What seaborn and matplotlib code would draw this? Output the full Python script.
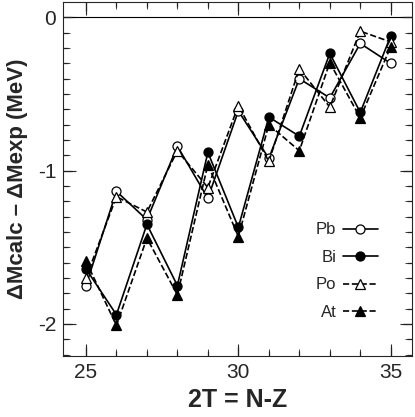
import matplotlib
matplotlib.use("Agg")
import matplotlib.pyplot as plt
import numpy as np
import seaborn as sns
from matplotlib.ticker import MultipleLocator

# 2T = N-Z
two_t = [25, 26, 27, 28, 29, 30, 31, 32, 33, 34, 35]

pb = [-1.75, -1.135, -1.32, -0.84, -1.18, -0.61, -0.92, -0.40, -0.525, -0.17, -0.30]
bi = [-1.64, -1.94, -1.35, -1.75, -0.88, -1.37, -0.65, -0.775, -0.235, -0.62, -0.12]
po = [-1.70, -1.17, -1.27, -0.87, -1.11, -0.575, -0.94, -0.335, -0.585, -0.09, -0.16]
at = [-1.59, -2.01, -1.44, -1.81, -0.96, -1.43, -0.70, -0.87, -0.295, -0.655, -0.19]

sns.set_style("ticks")
plt.rcParams['font.family'] = ['Liberation Sans', 'DejaVu Sans']
plt.rcParams['axes.unicode_minus'] = False

fig = plt.figure(figsize=(4.15, 4.17), dpi=100)
ax = fig.add_axes([0.152, 0.146, 0.841, 0.849])

ax.axhline(0, color='black', lw=0.8)

series = [
    ('Pb', pb, 'o', 'white', '-'),
    ('Bi', bi, 'o', 'black', '-'),
    ('Po', po, '^', 'white', '--'),
    ('At', at, '^', 'black', '--'),
]
for name, vals, mk, fc, ls in series:
    line_kw = dict(dashes=(3, 2)) if ls == '--' else {}
    sns.lineplot(x=two_t, y=vals, ax=ax, color='black', lw=1.2, linestyle=ls,
                 marker=mk, markersize=6.5, markerfacecolor=fc,
                 markeredgecolor='black', markeredgewidth=0.9, label=name,
                 **line_kw)

ax.set_xlim(24.25, 35.7)
ax.set_ylim(-2.21, 0.1)
ax.xaxis.set_major_locator(MultipleLocator(5))
ax.xaxis.set_minor_locator(MultipleLocator(1))
ax.yaxis.set_major_locator(MultipleLocator(1))
ax.yaxis.set_minor_locator(MultipleLocator(0.1))
ax.tick_params(which='both', direction='in', top=True, right=True, length=9)
ax.tick_params(which='minor', length=5)
ax.tick_params(labelsize=15, pad=5)

# inward tick marks on all four sides, drawn as short lines in axes units
xmaj = [25, 30, 35]
xmin = [t for t in two_t if t not in xmaj]
ymaj = [-2, -1, 0]
ymin = [v for v in np.round(np.arange(-2.2, 0.05, 0.1), 1) if v not in ymaj]
fx, fy = 9 / 354, 9 / 349  # tick lengths as fractions of the axes box
tick_kw = dict(color='#222222', lw=0.9, clip_on=False, zorder=3)
xt = ax.get_xaxis_transform()
yt = ax.get_yaxis_transform()
ax.vlines(xmaj, 0, fx, transform=xt, **tick_kw)
ax.vlines(xmaj, 1 - fx, 1, transform=xt, **tick_kw)
ax.vlines(xmin, 0, fx * 0.55, transform=xt, **tick_kw)
ax.vlines(xmin, 1 - fx * 0.55, 1, transform=xt, **tick_kw)
ax.hlines(ymaj, 0, fy, transform=yt, **tick_kw)
ax.hlines(ymaj, 1 - fy, 1, transform=yt, **tick_kw)
ax.hlines(ymin, 0, fy * 0.55, transform=yt, **tick_kw)
ax.hlines(ymin, 1 - fy * 0.55, 1, transform=yt, **tick_kw)

ax.set_xlabel('2T = N-Z', fontsize=18, fontweight='bold', labelpad=4)
ax.set_ylabel('ΔMcalc – ΔMexp (MeV)', fontsize=16, fontweight='bold', labelpad=7)

ax.legend(loc='lower right', bbox_to_anchor=(0.945, 0.06), frameon=False,
          markerfirst=False, fontsize=12, handlelength=2.1,
          labelspacing=0.75, handletextpad=0.4)

fig.savefig('out.png', dpi=100)
